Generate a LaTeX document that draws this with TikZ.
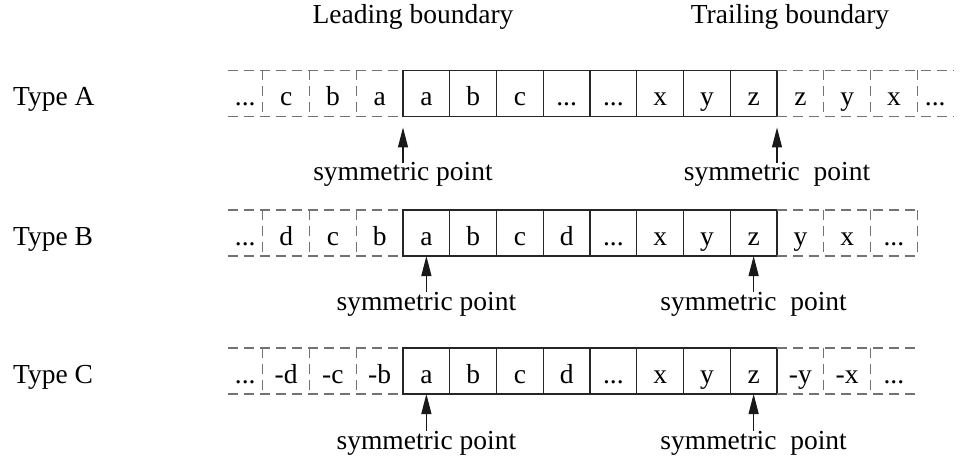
\documentclass[tikz,border=0pt]{standalone}
\usepackage{fontspec}
\setmainfont{Liberation Serif}
\usetikzlibrary{arrows.meta,positioning}

\def\dd{...}
\tikzset{
  cell/.style={draw=black!85,line width=1.2pt,minimum width=46.75pt,minimum height=46pt,
    inner sep=0pt,outer sep=0pt,text height=24pt,text depth=0pt},
  ghost/.style={cell,draw=none},
  edge/.style={draw=black!55,line width=1.3pt,dash pattern=on 10pt off 6pt},
  symarrow/.style={-{Triangle[length=20pt,width=10pt]},line width=1.2pt,black!90},
  lbl/.style={inner sep=0pt,anchor=base},
}

\begin{document}
\begin{tikzpicture}[x=1pt,y=1pt,font=\fontsize{27.5}{33}\selectfont]
\useasboundingbox (0,0) rectangle (960,464);
% headings over the two edges
\node[lbl] (lead) at (413,440) {Leading boundary};
\node[lbl] (trail) at (790,440) {Trailing boundary};

% Type A: mirrored about the cell edges
\node[lbl,anchor=base west] (typeA) at (13,358) {Type A};
\foreach \t [count=\i from 0] in {a,b,c,\dd,\dd,x,y,z}
  \node[cell] (A\i) at (426.375+46.75*\i,370.5) {\t};
\foreach \t [count=\i] in {a,b,c}
  \node[ghost] (Al\i) at (426.375-46.75*\i,370.5) {\t};
\node[ghost,minimum width=35pt,anchor=east] (Al4) at (Al3.west) {\dd};
\foreach \t [count=\i] in {z,y,x}
  \node[ghost] (Ar\i) at (753.625+46.75*\i,370.5) {\t};
\node[ghost,minimum width=36pt,anchor=west] (Ar4) at (Ar3.east) {\dd};
\draw[edge] (Al4.north west) -- (A0.north west) (Al4.south west) -- (A0.south west);
\draw[edge] (A7.north east) -- (Ar4.north east) (A7.south east) -- (Ar4.south east);
\draw[edge] (Al3.north west) -- (Al3.south west) (Al3.north east) -- (Al3.south east)
  (Al1.north west) -- (Al1.south west);
\draw[edge] (Ar1.north east) -- (Ar1.south east) (Ar3.north west) -- (Ar3.south west)
  (Ar3.north east) -- (Ar3.south east);
\coordinate (tipAl) at ([yshift=-11pt]A0.south west);
\coordinate (tipAr) at ([yshift=-11pt]A7.south east);
\node[lbl] (symAl) at (403,283) {symmetric point};
\node[lbl] (symAr) at (777,283) {symmetric~~point};
\draw[symarrow] (symAl.north) -- (tipAl);
\draw[symarrow] (symAr.north) -- (tipAr);

% Type B: mirrored about the end cells
\node[lbl,anchor=base west] (typeB) at (13,219) {Type B};
\foreach \t [count=\i from 0] in {a,b,c,d,\dd,x,y,z}
  \node[cell] (B\i) at (426.375+46.75*\i,231) {\t};
\foreach \t [count=\i] in {b,c,d}
  \node[ghost] (Bl\i) at (426.375-46.75*\i,231) {\t};
\node[ghost,minimum width=35pt,anchor=east] (Bl4) at (Bl3.west) {\dd};
\foreach \t [count=\i] in {y,x,\dd}
  \node[ghost] (Br\i) at (753.625+46.75*\i,231) {\t};
\draw[edge] (Bl4.north west) -- (B0.north west) (Bl4.south west) -- (B0.south west);
\draw[edge] (B7.north east) -- (Br3.north east) (B7.south east) -- (Br3.south east);
\draw[edge] (Bl3.north west) -- (Bl3.south west) (Bl3.north east) -- (Bl3.south east)
  (Bl1.north west) -- (Bl1.south west);
\draw[edge] (Br1.north east) -- (Br1.south east) (Br3.north west) -- (Br3.south west)
  (Br3.north east) -- (Br3.south east);
\node[lbl] (symBl) at (B0.center |- 0,154) {symmetric point};
\node[lbl] (symBr) at (B7.center |- 0,154) {symmetric~~point};
\draw[symarrow] (symBl.north) -- (B0.south);
\draw[symarrow] (symBr.north) -- (B7.south);

% Type C: odd mirror about the end cells
\node[lbl,anchor=base west] (typeC) at (13,81) {Type C};
\foreach \t [count=\i from 0] in {a,b,c,d,\dd,x,y,z}
  \node[cell] (C\i) at (426.375+46.75*\i,93) {\t};
\foreach \t [count=\i] in {-b,-c,-d}
  \node[ghost] (Cl\i) at (426.375-46.75*\i,93) {\t};
\node[ghost,minimum width=35pt,anchor=east] (Cl4) at (Cl3.west) {\dd};
\foreach \t [count=\i] in {-y,-x,\dd}
  \node[ghost] (Cr\i) at (753.625+46.75*\i,93) {\t};
\draw[edge] (Cl4.north west) -- (C0.north west) (Cl4.south west) -- (C0.south west);
\draw[edge] (C7.north east) -- (Cr3.north east) (C7.south east) -- (Cr3.south east);
\draw[edge] (Cl3.north west) -- (Cl3.south west) (Cl3.north east) -- (Cl3.south east)
  (Cl1.north west) -- (Cl1.south west);
\draw[edge] (Cr1.north east) -- (Cr1.south east) (Cr3.north west) -- (Cr3.south west);
\node[lbl] (symCl) at (C0.center |- 0,15) {symmetric point};
\node[lbl] (symCr) at (C7.center |- 0,15) {symmetric~~point};
\draw[symarrow] (symCl.north) -- (C0.south);
\draw[symarrow] (symCr.north) -- (C7.south);
\end{tikzpicture}
\end{document}
